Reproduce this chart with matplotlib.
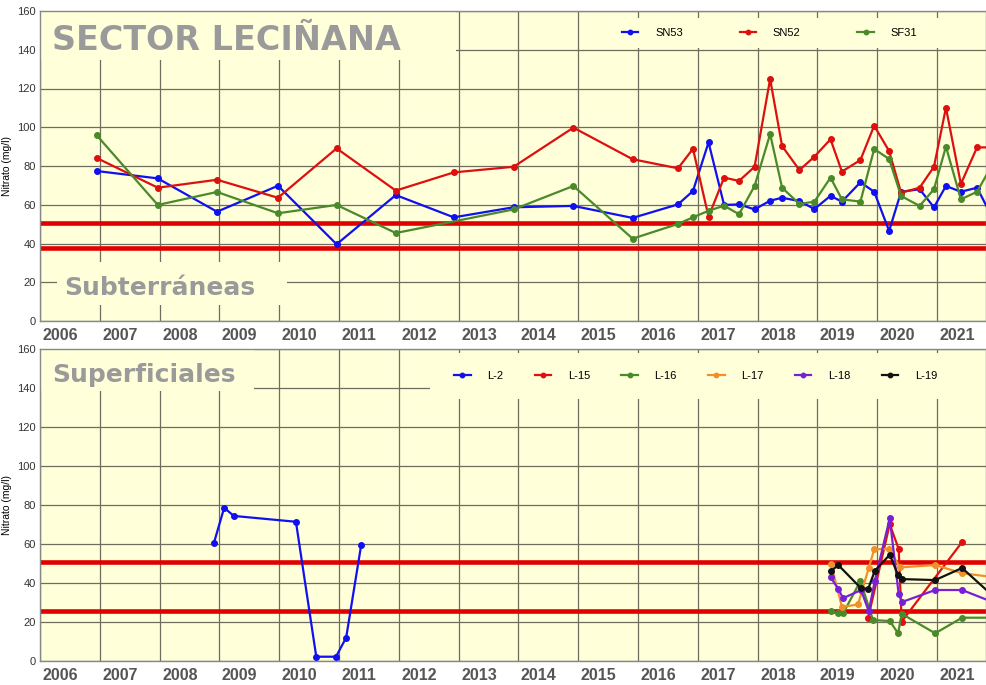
import numpy as np
import matplotlib
matplotlib.use("Agg")
import matplotlib.pyplot as plt
from matplotlib.patches import Rectangle

plt.rcParams['font.family'] = ['Liberation Sans', 'DejaVu Sans']

# ---- datos: aguas subterráneas (fecha decimal, nitrato mg/l)
fechas_sub = [2006.95, 2007.97, 2008.96, 2009.98, 2010.96, 2011.95, 2012.92, 2013.92,
              2014.92, 2015.91, 2016.67, 2016.92, 2017.18, 2017.44, 2017.69, 2017.95,
              2018.21, 2018.41, 2018.70, 2018.95, 2019.22, 2019.41, 2019.72, 2019.95,
              2020.20, 2020.40, 2020.71, 2020.95, 2021.15, 2021.40, 2021.67, 2021.95]
sn53 = [77.4, 73.6, 56.4, 69.8, 39.6, 65.0, 53.5, 58.7, 59.4, 53.2, 60.2, 67.1, 92.2, 59.9,
        60.2, 57.6, 62.1, 63.6, 61.9, 57.8, 64.6, 61.6, 71.6, 66.7, 46.5, 66.7, 68.0, 58.7,
        69.7, 66.7, 68.8, 52.0]
sn52 = [84.1, 68.8, 72.9, 63.6, 89.1, 67.3, 76.7, 79.6, 99.8, 83.5, 78.8, 88.9, 53.8, 74.0,
        72.3, 79.6, 124.9, 90.3, 77.9, 84.8, 93.8, 77.1, 83.1, 100.8, 87.7, 66.2, 68.8, 79.6,
        110.1, 70.7, 89.6, 89.6]
sf31 = [95.8, 59.9, 66.6, 55.6, 59.9, 45.4, np.nan, 57.6, 69.7, 42.5, 50.1, 53.5, 56.9, 59.5,
        55.1, 69.7, 96.5, 68.8, 60.4, 61.6, 74.0, 62.8, 61.6, 88.8, 83.6, 64.5, 59.4, 68.0,
        90.0, 62.8, 66.7, 82.0]

# ---- datos: aguas superficiales
fechas_l2 = [2008.91, 2009.08, 2009.24, 2010.28, 2010.62, 2010.95, 2011.12, 2011.37]
l2 = [60.7, 78.6, 74.4, 71.4, 2.2, 2.2, 12.0, 59.3]

fechas_l15 = [2019.85, 2020.21, 2020.36, 2020.41, 2021.42]
l15 = [22.2, 70.2, 57.4, 20.2, 61.0]

fechas_l16 = [2019.23, 2019.34, 2019.43, 2019.72, 2019.93, 2020.21, 2020.35, 2020.41,
              2020.97, 2021.42, 2021.95]
l16 = [25.6, 24.4, 24.4, 41.0, 21.0, 20.5, 14.2, 24.2, 14.2, 22.2, 22.2]

fechas_l17 = [2019.23, 2019.41, 2019.68, 2019.86, 2019.95, 2020.20, 2020.38, 2020.97,
              2021.42, 2021.95]
l17 = [49.7, 27.7, 29.0, 47.8, 57.2, 57.6, 48.0, 49.2, 45.0, 43.0]

fechas_l18 = [2019.22, 2019.35, 2019.43, 2019.73, 2019.86, 2019.96, 2020.21, 2020.36,
              2020.42, 2020.97, 2021.42, 2021.95]
l18 = [43.0, 36.9, 32.2, 36.4, 25.5, 41.0, 73.2, 34.2, 30.3, 36.4, 36.4, 30.0]

fechas_l19 = [2019.23, 2019.35, 2019.73, 2019.85, 2019.96, 2020.21, 2020.35, 2020.42,
              2020.97, 2021.42, 2021.95]
l19 = [46.2, 49.2, 37.3, 37.0, 46.2, 54.5, 44.1, 42.0, 41.5, 47.7, 33.0]

anios = list(range(2006, 2022))
limites_sub = [50.8, 37.5]
limites_sup = [50.8, 25.7]

FONDO = '#FFFFDA'
GRIS = '#9A9A9A'
TITULOS = ['DejaVu Sans']


def preparar_eje(ax, limites):
    ax.set_facecolor(FONDO)
    ax.set_xlim(2006, 2021.82)
    ax.set_ylim(0, 160)
    ax.set_yticks(range(0, 161, 20))
    ax.set_xticks(anios)
    ax.set_xticklabels([])
    ax.set_xticks([a + 0.34 for a in anios], minor=True)
    ax.set_xticklabels([str(a) for a in anios], minor=True,
                       family=['Liberation Sans Narrow', 'Liberation Sans'],
                       fontweight='bold', fontsize=11.5, color='#555555')
    ax.tick_params(axis='x', which='both', length=0, pad=5)
    ax.tick_params(axis='y', length=0, pad=3, labelsize=8, labelcolor='#333333')
    ax.set_axisbelow(True)
    ax.grid(True, which='major', color='#6E6E5E', linewidth=0.9)
    for s in ax.spines.values():
        s.set_color('#888888')
        s.set_linewidth(1)
    ax.set_ylabel('Nitrato (mg/l)', fontsize=7.5, labelpad=4)
    for v in limites:
        ax.axhline(v, color='#E00000', linewidth=3.3, zorder=2.2)


def tapa(ax, x0, y0, x1, y1):
    # recuadro del color de fondo que oculta la rejilla (títulos y leyenda)
    ax.add_patch(Rectangle((x0, y0), x1 - x0, y1 - y0, transform=ax.transAxes,
                           facecolor=FONDO, edgecolor='none', zorder=1.5))


fig = plt.figure(figsize=(9.86, 6.85), dpi=100)
ax1 = fig.add_axes([40 / 986, 1 - 321 / 685, 946 / 986, 310 / 685])
ax2 = fig.add_axes([40 / 986, 1 - 661 / 685, 946 / 986, 312 / 685])

# ---- panel superior
preparar_eje(ax1, limites_sub)
estilo = dict(linewidth=1.6, marker='o', markersize=4, zorder=3)
series_sub = [('SN53', sn53, '#1010F0'), ('SN52', sn52, '#DD1010'), ('SF31', sf31, '#4A8A2A')]
for nombre, vals, col in series_sub:
    x = np.array(fechas_sub)
    y = np.array(vals, dtype=float)
    ok = ~np.isnan(y)
    ax1.plot(x[ok], y[ok], color=col, label=nombre, **estilo)

tapa(ax1, 0, 0.842, 0.44, 1.0)
tapa(ax1, 0.018, 0.052, 0.261, 0.19)
tapa(ax1, 0.58, 0.881, 1.0, 0.977)
ax1.text(0.0127, 0.874, 'SECTOR LECIÑANA', transform=ax1.transAxes, fontsize=24,
         family=TITULOS, fontweight='bold', color=GRIS, va='baseline', ha='left', zorder=4)
ax1.text(0.026, 0.084, 'Subterráneas', transform=ax1.transAxes, fontsize=18,
         family=TITULOS, fontweight='bold', color=GRIS, va='baseline', ha='left', zorder=4)
ax1.legend(ncol=3, loc='center left', bbox_to_anchor=(0.615, 0.929), frameon=False,
           fontsize=8, handlelength=1.5, handletextpad=1.5, columnspacing=5.1,
           borderpad=0, borderaxespad=0, markerscale=0.8)

# ---- panel inferior
preparar_eje(ax2, limites_sup)
series_sup = [('L-2', fechas_l2, l2, '#1010F0'), ('L-15', fechas_l15, l15, '#E01010'),
              ('L-16', fechas_l16, l16, '#4A8A2A'), ('L-17', fechas_l17, l17, '#F0902A'),
              ('L-18', fechas_l18, l18, '#7A1FD8'), ('L-19', fechas_l19, l19, '#111111')]
for nombre, x, y, col in series_sup:
    ax2.plot(x, y, color=col, label=nombre, **estilo)

tapa(ax2, 0, 0.865, 0.226, 1.0)
tapa(ax2, 0.412, 0.84, 1.0, 0.987)
ax2.text(0.0127, 0.895, 'Superficiales', transform=ax2.transAxes, fontsize=18,
         family=TITULOS, fontweight='bold', color=GRIS, va='baseline', ha='left', zorder=4)
ax2.legend(ncol=6, loc='center left', bbox_to_anchor=(0.4376, 0.913), frameon=False,
           fontsize=8, handlelength=1.5, handletextpad=1.5, columnspacing=2.8,
           borderpad=0, borderaxespad=0, markerscale=0.8)

fig.savefig('out.png', dpi=100, facecolor='white')
